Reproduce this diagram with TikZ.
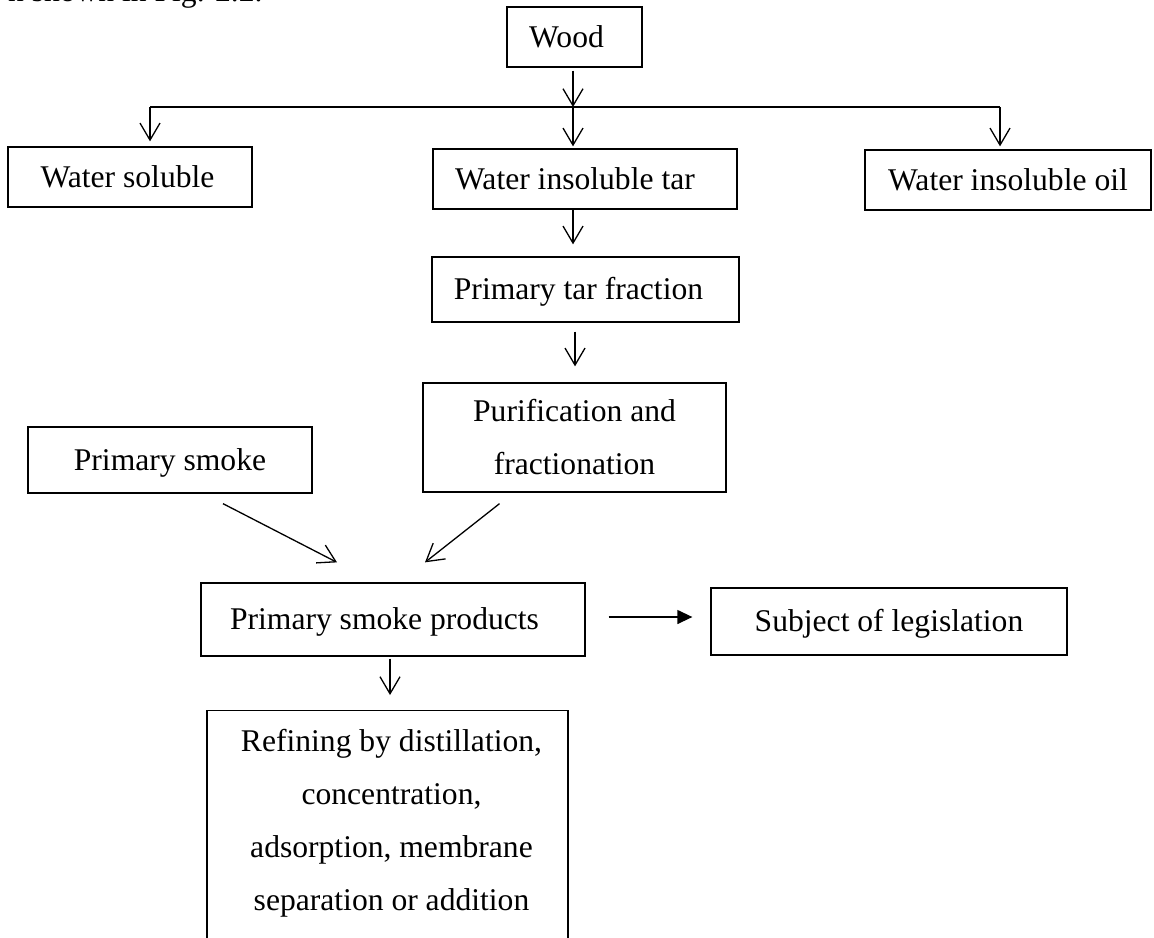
\documentclass[tikz,border=0pt]{standalone}
\usepackage{fontspec}
\setmainfont{Liberation Serif}
\usetikzlibrary{arrows.meta,calc}
\begin{document}
\begin{tikzpicture}[x=0.5pt,y=-0.5pt,
  every node/.style={font=\fontsize{15.8pt}{26.5pt}\selectfont},
  box/.style={draw, line width=0.65pt, inner sep=0pt, text height=11.85pt, text depth=1.6pt},
  mbox/.style={draw, line width=0.65pt, inner sep=0pt, align=center},
  arr/.style={line width=0.65pt, -{Straight Barb[length=8.5pt,width=10pt]}},
  tri/.style={line width=0.65pt, -{Triangle[length=7.5pt,width=7pt]}},
  ln/.style={line width=0.65pt}]
\useasboundingbox (0,0) rectangle (1154,937);

% clipped fragment of the running text above the figure
\node[anchor=base east, inner sep=0pt] (frag) at (263,1.5) {n shown in Fig. 2.2.};

% boxes
\node[box, minimum width=67.5pt, minimum height=30pt] (wood) at (574.5,37) {\kern-8pt Wood};
\node[box, minimum width=122pt, minimum height=30pt] (ws) at (130,177) {\kern-2.5pt Water soluble};
\node[box, minimum width=152pt, minimum height=30pt] (tar) at (585,179) {\kern-10pt Water insoluble tar};
\node[box, minimum width=143pt, minimum height=30pt] (oil) at (1008,180) {Water insoluble oil};
\node[box, minimum width=153.5pt, minimum height=32.5pt] (ptf) at (585.5,289.5) {\kern-7pt Primary tar fraction};
\node[mbox, minimum width=151.5pt, minimum height=54.5pt] (pur) at (574.5,437.5) {Purification and\\fractionation};
\node[box, minimum width=142pt, minimum height=33pt] (ps) at (170,460) {Primary smoke};
\node[box, minimum width=192pt, minimum height=36.5pt] (psp) at (393,619.5) {\kern-8.5pt Primary smoke products};
\node[box, minimum width=178pt, minimum height=33.5pt] (leg) at (889,621.5) {Subject of legislation};
\node[draw, line width=0.65pt, inner sep=0pt, minimum width=180.5pt, minimum height=125pt, anchor=north] (ref) at (387.5,710) {};
\node[align=center, inner sep=0pt, anchor=north] (reftext) at (391.5,728.5)
  {Refining by distillation,\\concentration,\\adsorption, membrane\\separation or addition};

% junction line
\coordinate (j) at (573,107);
\coordinate (jl) at (150,107);
\coordinate (jr) at (1000,107);

% connectors
\draw[arr] ($(wood.south -| j)+(0,3)$) -- (j);
\draw[ln] (jl) -- (jr);
\draw[arr, shorten >=2.5pt] (jl) -- (jl |- ws.north);
\draw[arr, shorten >=1pt] (j) -- (j |- tar.north);
\draw[arr, shorten >=1.5pt] (jr) -- (jr |- oil.north);
\draw[arr, shorten >=6pt] (tar.south -| j) -- (ptf.north -| j);
\draw[arr] ($(ptf.south)+(-10.5,9)$) -- ($(pur.north)+(0.5,-16)$);
\draw[arr] ($(ps.south)+(53,10)$) -- ($(psp.north)+(-56,-20)$);
\draw[arr] ($(pur.south)+(-75,11)$) -- ($(psp.north)+(32,-20)$);
\draw[tri] ($(psp.east)+(23,-2.5)$) -- ($(leg.west)+(-18,-4.5)$);
\draw[arr] ($(psp.south)+(-3,2)$) -- ($(ref.north)+(2.5,-15)$);
\end{tikzpicture}
\end{document}
